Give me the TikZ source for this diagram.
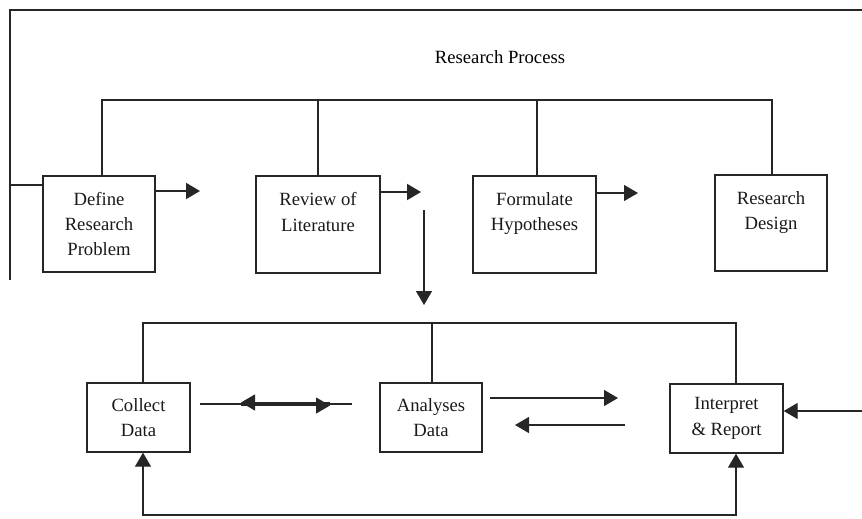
\documentclass[tikz,border=0pt]{standalone}
\usepackage{fontspec}
\setmainfont{Liberation Serif}
\usetikzlibrary{arrows.meta}

\begin{document}
\begin{tikzpicture}[x=0.75pt,y=-0.75pt,font=\fontsize{14}{19}\selectfont,
  stagebox/.style={rectangle,draw=black!85,text=black!90,line width=1pt,align=center,inner sep=0pt},
  link/.style={draw=black!85,line width=0.9pt},
  arr/.style={link,-{Triangle[length=10.5pt,width=12pt]}},
  thickarr/.style={arr,line width=1.5pt}]
\useasboundingbox (0,0) rectangle (862,518);
% title
\node (title) at (500,57) {Research Process};
% upper row of stages
\node[stagebox,minimum width=84pt,minimum height=72pt] (define) at (99,224) {Define\\Research\\Problem};
\node[stagebox,minimum width=93pt,minimum height=72.75pt] (review) at (318,224.5) {Review of\\Literature\\~};
\node[stagebox,minimum width=92.25pt,minimum height=72.75pt] (formulate) at (534.5,224.5) {Formulate\\Hypotheses\\~};
\node[stagebox,minimum width=84pt,minimum height=72pt] (design) at (771,223) {Research\\Design\\~};
% lower row of stages
\node[stagebox,minimum width=77.25pt,minimum height=51.75pt] (collect) at (138.5,417.5) {Collect\\Data};
\node[stagebox,minimum width=76.5pt,minimum height=51.75pt] (analyse) at (431,417.5) {Analyses\\Data};
\node[stagebox,minimum width=84.75pt,minimum height=51.75pt] (interpret) at (726.5,418.5) {Interpret\\\& Report};

% outer frame
\coordinate (frameL) at (10,280);
\coordinate (frameR) at (862,10);
\draw[link] (frameL) |- (frameR);
\draw[link] (frameL |- 0,185) -- (define.west |- 0,185);

% upper bus
\draw[link] (define.north -| 102,0) -- (102,100) -| (design.north -| 772,0);
\draw[link] (review.north) -- (review.north |- 0,100);
\draw[link] (formulate.north -| 537,0) -- (537,100);

% short arrows of the upper row
\coordinate (out1) at (200,191);
\coordinate (out2) at (421,192);
\coordinate (out3) at (638,193);
\draw[thickarr] (define.east |- out1) -- (out1);
\draw[thickarr] (review.east |- out2) -- (out2);
\draw[arr] (formulate.east |- out3) -- (out3);
\coordinate (down1) at (424,210);
\coordinate (down2) at (424,305);
\draw[arr] (down1) -- (down2);

% lower bus
\draw[link] (collect.north -| 143,0) -- (143,323) -| (interpret.north -| 736,0);
\draw[link] (analyse.north -| 432,0) -- (432,323);

% arrows between collect and analyse
\coordinate (ca1) at (200,404);
\coordinate (ca2) at (352,404);
\draw[link] (ca1) -- (ca2);
\coordinate (cb1) at (241,402.5);
\coordinate (cb2) at (330,402.5);
\coordinate (cc1) at (241,405.5);
\coordinate (cc2) at (330,405.5);
\draw[arr] (cb2) -- (cb1);
\draw[arr] (cc1) -- (cc2);

% arrows between analyse and interpret
\coordinate (ai1) at (490,398);
\coordinate (ai2) at (618,398);
\coordinate (ia1) at (625,425);
\coordinate (ia2) at (515,425);
\draw[arr] (ai1) -- (ai2);
\draw[arr] (ia1) -- (ia2);
\coordinate (feed) at (862,411);
\draw[arr] (feed) -- (interpret.east |- feed);

% feedback loop at the bottom
\coordinate (loopL) at (143,515);
\coordinate (loopR) at (736,515);
\draw[link,{Triangle[length=10.5pt,width=12pt]}-{Triangle[length=10.5pt,width=12pt]}] (collect.south -| loopL) -- (loopL) -- (loopR) -- (interpret.south -| loopR);
\end{tikzpicture}
\end{document}
